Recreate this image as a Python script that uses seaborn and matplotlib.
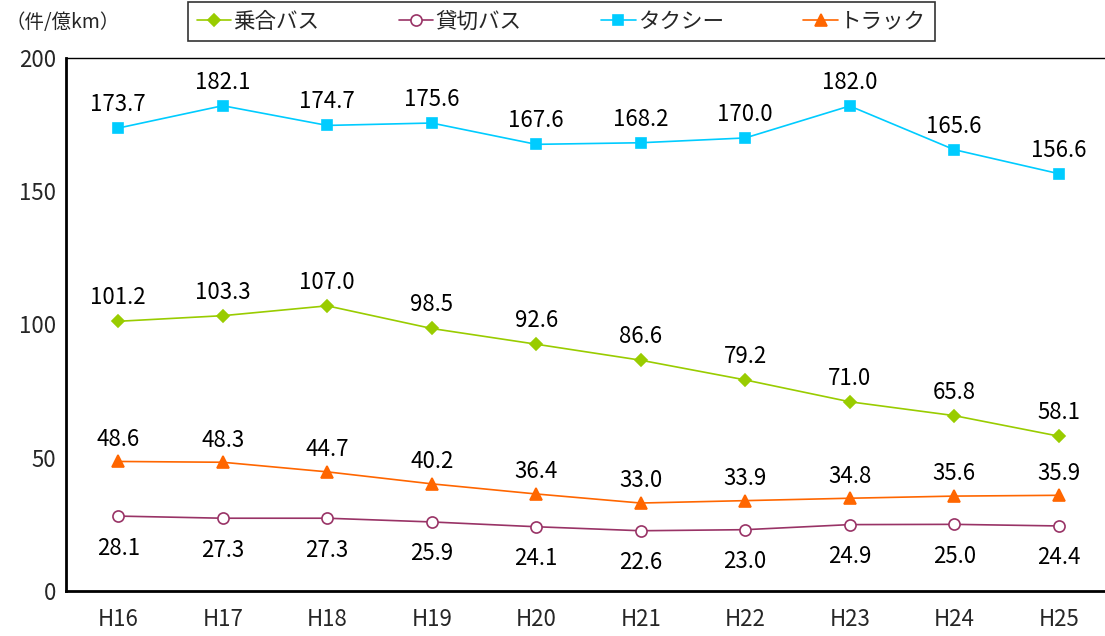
import matplotlib
matplotlib.use('Agg')
import matplotlib.pyplot as plt
import seaborn as sns
import pandas as pd

years = ['H16', 'H17', 'H18', 'H19', 'H20', 'H21', 'H22', 'H23', 'H24', 'H25']
noriai_bus = [101.2, 103.3, 107.0, 98.5, 92.6, 86.6, 79.2, 71.0, 65.8, 58.1]
kashikiri_bus = [28.1, 27.3, 27.3, 25.9, 24.1, 22.6, 23.0, 24.9, 25.0, 24.4]
taxi = [173.7, 182.1, 174.7, 175.6, 167.6, 168.2, 170.0, 182.0, 165.6, 156.6]
truck = [48.6, 48.3, 44.7, 40.2, 36.4, 33.0, 33.9, 34.8, 35.6, 35.9]
series_names = ['乗合バス', '貸切バス', 'タクシー', 'トラック']

sns.set_theme(style='white')
plt.rcParams['font.family'] = ['Noto Sans CJK JP', 'DejaVu Sans']

fig = plt.figure(figsize=(11.05, 6.36), dpi=100)
ax = fig.add_axes([0.0597, 0.0708, 0.9457, 0.838])

# name, values, color, marker, face, marker size, label offset (pt)
styles = [
    (series_names[0], noriai_bus, '#99CC00', 'D', '#99CC00', 6, 17),
    (series_names[1], kashikiri_bus, '#993366', 'o', 'white', 8, -23),
    (series_names[2], taxi, '#00CCFF', 's', '#00CCFF', 7, 17),
    (series_names[3], truck, '#FF6600', '^', '#FF6600', 8, 16),
]

for name, vals, color, marker, face, ms, dy in styles:
    df = pd.DataFrame({'x': range(len(years)), 'y': vals})
    sns.lineplot(data=df, x='x', y='y', ax=ax, color=color, marker=marker,
                 markersize=ms, markerfacecolor=face, markeredgecolor=color,
                 markeredgewidth=1.2, linewidth=1.2, label=name, legend=False)
    for i, v in enumerate(vals):
        ax.annotate(f'{v:.1f}', (i, v), xytext=(0, dy), textcoords='offset points',
                    ha='center', va='center', fontsize=16, color='black')

ax.set_xlim(-0.5, 9.5)
ax.set_ylim(0, 200)
ax.set_yticks([0, 50, 100, 150, 200])
ax.set_xticks(range(len(years)))
ax.set_xticklabels(years)
ax.set_xticks([i + 0.5 for i in range(-1, 10)], minor=True)
ax.tick_params(axis='x', which='major', length=0, pad=12, labelsize=16)
ax.tick_params(axis='x', which='minor', direction='in', length=6, width=1.2, color='black')
ax.tick_params(axis='y', direction='in', length=6, width=1.2, color='black', labelsize=16, pad=7)
ax.set_xlabel('')
ax.set_ylabel('')
ax.grid(False)

for side in ['left', 'bottom']:
    ax.spines[side].set_color('black')
    ax.spines[side].set_linewidth(2)
ax.spines['top'].set_color('black')
ax.spines['top'].set_linewidth(1)
ax.spines['right'].set_visible(False)

fig.text(0.005, 0.965, '（件/億km）', fontsize=14, ha='left', va='center')

handles, labels = ax.get_legend_handles_labels()
leg = fig.legend(handles, labels, loc='center', bbox_to_anchor=(0.508, 0.966),
                 ncol=4, fontsize=15.5, frameon=True, fancybox=False,
                 handlelength=1.6, handletextpad=0.1, columnspacing=3.7,
                 borderpad=0.4, borderaxespad=0)
leg.get_frame().set_edgecolor('black')
leg.get_frame().set_linewidth(1.2)

fig.savefig('out.png', dpi=100)
